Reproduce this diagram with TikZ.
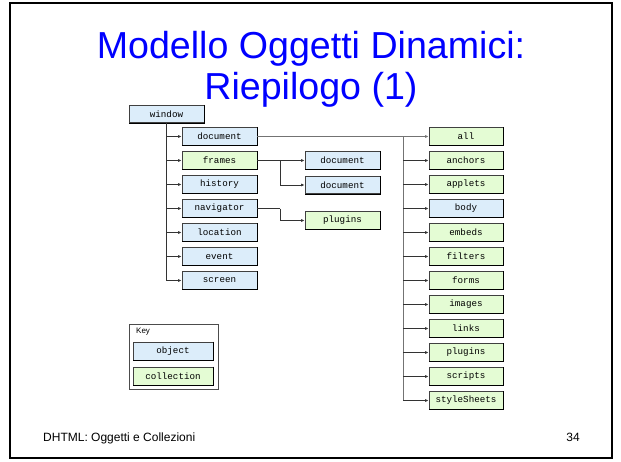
\documentclass[tikz,border=0pt]{standalone}
\usepackage{fontspec}
\setmainfont{Liberation Sans}
\newfontfamily\boxfont{Liberation Mono}
\usetikzlibrary{arrows.meta}
\definecolor{objblue}{RGB}{220,237,250}
\definecolor{colgreen}{RGB}{228,252,212}
\definecolor{titleblue}{RGB}{0,0,255}
\begin{document}
\begin{tikzpicture}[x=1pt,y=-1pt,
 box/.style={draw=black!75, line width=0.7pt, minimum width=75pt, minimum height=17.5pt, inner sep=0pt, font=\boxfont\fontsize{9.2}{10}\selectfont},
 obj/.style={box, fill=objblue},
 coll/.style={box, fill=colgreen},
 conn/.style={draw=black!80, line width=0.8pt},
 arr/.style={conn, -{Latex[length=3.5pt,width=3pt]}},
 garr/.style={arr, draw=black!55, line width=0.7pt}
]
\useasboundingbox (0,0) rectangle (621,461);
\fill[white] (0,0) rectangle (621,461);
\draw[line width=1.6pt] (10,3) rectangle (612,458);

% title
\node[text=titleblue, font=\fontsize{37.6}{40}\selectfont, anchor=base, inner sep=0pt] (t1) at (311,58) {Modello Oggetti Dinamici:};
\node[text=titleblue, font=\fontsize{37.6}{40}\selectfont, anchor=base, inner sep=0pt] (t2) at (311,99) {Riepilogo (1)};

% footer
\node[font=\fontsize{12}{14}\selectfont, anchor=base west, inner sep=0pt] (foot) at (43,441) {DHTML: Oggetti e Collezioni};
\node[font=\fontsize{12}{14}\selectfont, anchor=base east, inner sep=0pt] (page) at (580,441) {34};

% window tree
\node[obj] (window) at (166.5,114) {window};
\node[obj]  (document)  at (219.5,136.5) {document};
\node[coll] (frames)    at (219.5,160.5) {frames};
\node[obj]  (history)   at (219.5,184.5) {history};
\node[obj]  (navigator) at (219.5,208.5) {navigator};
\node[obj]  (location)  at (219.5,232.5) {location};
\node[obj]  (event)     at (219.5,256.5) {event};
\node[obj]  (screen)    at (219.5,280.5) {screen};

\node[obj]  (doca) at (342.5,160.5) {document};
\node[obj]  (docb) at (342.5,185) {document};
\node[coll] (navplugins) at (342.5,220.5) {plugins};

% right column
\foreach \n/\t/\s [count=\i from 0] in {all/all/coll, anchors/anchors/coll, applets/applets/coll, body/body/obj, embeds/embeds/coll, filters/filters/coll, forms/forms/coll, images/images/coll, links/links/coll, plugins/plugins/coll, scripts/scripts/coll, styleSheets/styleSheets/coll}
  \node[\s, minimum width=74pt] (\n) at (466,136.5+24*\i) {\t};

% key
\node[draw=black!70, line width=0.6pt, minimum width=89pt, minimum height=65pt, inner sep=0pt] (key) at (173.5,356.5) {};
\node[anchor=west, font=\fontsize{8}{9}\selectfont, inner sep=0pt] (keylbl) at (136,332) {Key};
\node[obj, minimum width=80pt, minimum height=18pt] (kobj) at (173,351) {object};
\node[coll, minimum width=80pt, minimum height=18pt] (kcoll) at (173,376) {collection};

% darker right/bottom edges
\foreach \n in {window,document,frames,history,navigator,location,event,screen,doca,docb,navplugins,all,anchors,applets,body,embeds,filters,forms,images,links,plugins,scripts,styleSheets,kobj,kcoll}
  \draw[line width=1.1pt, black] (\n.north east) -- (\n.south east) -- (\n.south west);

% left tree connectors
\draw[conn] (window.south) -- (window.south |- screen.west);
\foreach \n in {document,frames,history,navigator,location,event,screen}
  \draw[arr] (window.south |- \n.west) -- (\n.west);

% frames -> documents
\coordinate (fb) at (280,160.5);
\draw[arr] (frames.east) -- (doca.west);
\draw[arr] (fb) |- (docb.west);
% navigator -> plugins
\coordinate (nb) at (280,208.5);
\draw[conn] (navigator.east) -- (nb);
\draw[arr] (nb) |- (navplugins.west);

% document -> collections
\coordinate (rt) at (403,136.5);
\draw[garr] (document.east) -- (all.west);
\draw[conn, draw=black!55, line width=0.7pt] (rt) -- (rt |- styleSheets.west);
\foreach \n in {anchors,applets,body,embeds,filters,forms,images,links,plugins,scripts,styleSheets}
  \draw[arr] (rt |- \n.west) -- (\n.west);
\end{tikzpicture}
\end{document}
